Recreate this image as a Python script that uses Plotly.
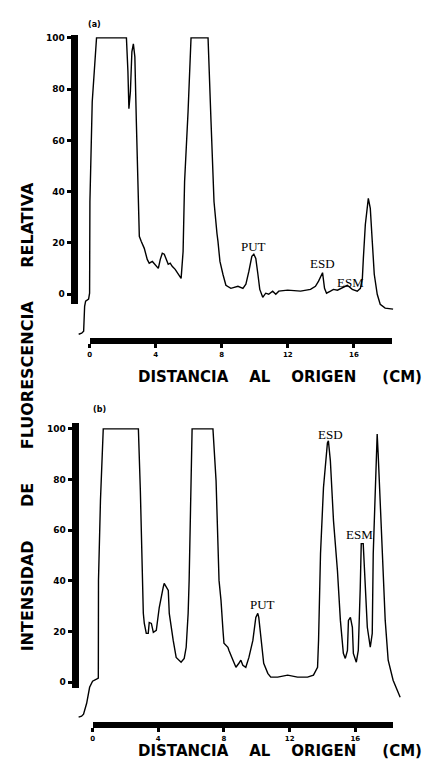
import plotly.graph_objects as go

W, H = 426, 771

# ---------------- data (cm, % relative fluorescence) ----------------
xa = [-0.66, -0.48, -0.36, -0.33, -0.30, -0.24, -0.06, 0.0, 0.02, 0.16, 0.42, 1.33, 2.23,
      2.32, 2.38, 2.47, 2.56, 2.65, 2.74, 2.83, 2.95, 3.0, 3.01, 3.13, 3.31, 3.49, 3.61,
      3.80, 3.98, 4.16, 4.28, 4.40, 4.52, 4.64, 4.76, 4.88, 5.0, 5.18, 5.36, 5.54, 5.66,
      5.75, 5.96, 6.14, 7.17, 7.23, 7.35, 7.53, 7.65, 7.71, 7.77, 7.89, 8.07, 8.25, 8.55,
      8.98, 9.28, 9.46, 9.64, 9.82, 9.94, 10.06, 10.18, 10.30, 10.48, 10.66, 10.84, 11.08,
      11.27, 11.45, 11.99, 12.77, 13.37, 13.67, 13.86, 14.10, 14.22, 14.34, 14.58, 14.76,
      15.0, 15.30, 15.60, 15.90, 16.20, 16.39, 16.51, 16.57, 16.69, 16.87, 16.99, 17.11,
      17.23, 17.41, 17.59, 17.89, 18.37]
ya = [-15.6, -15.2, -14.4, -9.7, -4.7, -2.7, -1.9, 0.4, 36.2, 75.1, 100, 100, 100,
      87, 72.4, 79, 94.6, 97.7, 92.6, 67.3, 36.2, 25.7, 22.6, 20.6, 17.9, 13.6, 12.1,
      12.8, 11.3, 10.1, 13.6, 16.0, 15.6, 13.6, 11.7, 12.1, 10.9, 9.7, 7.8, 6.2, 16.7,
      44, 71.2, 100, 100, 87, 67.3, 36.2, 25.3, 23.7, 20.6, 12.8, 7.8, 3.5, 2.3,
      3.1, 2.3, 3.9, 8.9, 14.8, 15.6, 14.0, 8.2, 1.9, -1.2, 0.4, 0.0, 1.2,
      0.0, 1.2, 1.6, 1.2, 1.9, 3.1, 5.1, 8.4, 2.3, 0.4, 1.2, 1.9,
      1.6, 2.7, 3.5, 1.9, 1.2, 2.3, 6.2, 14.0, 27.2, 37.4, 33.5, 20.6,
      7.8, 0.0, -3.9, -5.4, -5.8]

xb = [-0.85, -0.67, -0.55, -0.36, -0.18, 0.0, 0.24, 0.35, 0.36, 0.48, 0.65, 1.76, 2.79,
      2.91, 3.03, 3.09, 3.15, 3.27, 3.39, 3.45, 3.58, 3.70, 3.88, 4.06, 4.30, 4.36, 4.61,
      4.67, 4.91, 5.09, 5.39, 5.58, 5.70, 5.82, 5.88, 6.06, 7.33, 7.52, 7.70, 7.82, 7.94,
      8.0, 8.24, 8.30, 8.55, 8.73, 8.91, 9.03, 9.15, 9.33, 9.52, 9.76, 9.94, 10.06, 10.12,
      10.24, 10.42, 10.67, 10.85, 11.27, 11.88, 12.48, 13.09, 13.45, 13.70, 13.76, 13.88,
      14.06, 14.30, 14.36, 14.48, 14.67, 14.91, 15.09, 15.27, 15.39, 15.52, 15.58, 15.70,
      15.82, 15.88, 16.06, 16.18, 16.30, 16.36, 16.48, 16.61, 16.73, 16.91, 17.03, 17.09,
      17.21, 17.33, 17.39, 17.64, 17.82, 18.0, 18.30, 18.73]
yb = [-13.8, -13.4, -12.6, -8.3, -2.0, 0.4, 1.2, 1.6, 40.2, 71.7, 100, 100, 100,
      75.6, 40.2, 27.2, 23.2, 19.3, 19.3, 23.6, 23.2, 19.7, 20.5, 29.5, 37.4, 39.0, 36.2,
      27.2, 16.5, 9.8, 7.9, 9.4, 13.8, 27.2, 40.2, 100, 100, 79.5, 40.2, 32.3, 20.5,
      15.4, 13.8, 12.6, 8.7, 5.9, 7.5, 8.7, 6.7, 5.9, 9.8, 16.5, 25.6, 27.2, 25.6,
      17.7, 7.5, 3.5, 2.0, 2.0, 2.8, 2.0, 2.0, 2.8, 5.9, 16.5, 50.8,
      76.8, 94.5, 95.3, 87.4, 63.8, 44.1, 24.4, 11.4, 9.4, 12.6, 24.4, 25.6,
      21.7, 11.4, 7.9, 12.6, 37.4, 54.7, 54.7, 37.4, 21.7, 13.8, 19.3, 50.8,
      76.8, 98.0, 90.2, 50.8, 24.4, 8.7, 0.8, -5.9]

x_ticks = [0, 4, 8, 12, 16]
x_ticklabels = ["0", "4", "8", "12", "16"]
y_ticks = [0, 20, 40, 60, 80, 100]
y_ticklabels = ["0", "20", "40", "60", "80", "100"]

peak_labels = ["PUT", "ESD", "ESM"]
peaks_a_x = [9.94, 14.1, 15.78]
peaks_a_y = [18.7, 12.1, 4.7]
peaks_b_x = [10.36, 14.48, 16.24]
peaks_b_y = [30.7, 97.6, 58.3]

xgap = "\u00a0" * 4
x_title = "DISTANCIA" + xgap + "AL" + xgap + "ORIGEN" + xgap + "\u00a0(CM)"
gap = "\u00a0" * 6
y_title = "INTENSIDAD" + gap + "DE" + gap + "FLUORESCENCIA" + gap + "RELATIVA"

# ---------------- pixel geometry ----------------
def fx(px):
    return px / W

def fy(py):
    return 1 - py / H

panels = [
    # x0: px of x=0, kx px/cm ; y0: py of y=0, ky px/%
    dict(x0=88, kx=16.6, y0=293, ky=2.57, dom_x=(58, 416), dom_y=(18, 350),
         ybar=72, ybar_top=33, ybar_bot=303, xbar=340, xbar_end=392,
         xs=xa, ys=ya, px=peaks_a_x, py=peaks_a_y, tag="(a)", tagpos=(84, 16),
         xtitle_y=376),
    dict(x0=91, kx=16.5, y0=682, ky=2.54, dom_x=(58, 416), dom_y=(412, 740),
         ybar=73, ybar_top=422, ybar_bot=688, xbar=725, xbar_end=393,
         xs=xb, ys=yb, px=peaks_b_x, py=peaks_b_y, tag="(b)", tagpos=(89, 409),
         xtitle_y=762),
]

fig = go.Figure()
layout = dict(width=W, height=H, margin=dict(l=0, r=0, t=0, b=0),
              paper_bgcolor="white", plot_bgcolor="rgba(0,0,0,0)", showlegend=False)
annotations = []

for i, p in enumerate(panels):
    dn = i + 1          # data axes 1,2
    tn = i + 3          # tick axes 3,4
    xd = "x" if dn == 1 else f"x{dn}"
    yd = "y" if dn == 1 else f"y{dn}"
    xk = "xaxis" if dn == 1 else f"xaxis{dn}"
    yk = "yaxis" if dn == 1 else f"yaxis{dn}"

    L, R = p["dom_x"]
    T, B = p["dom_y"]
    layout[xk] = dict(domain=[fx(L), fx(R)], anchor=yd, visible=False,
                      range=[(L - p["x0"]) / p["kx"], (R - p["x0"]) / p["kx"]])
    layout[yk] = dict(domain=[fy(B), fy(T)], anchor=xd, visible=False,
                      range=[(p["y0"] - B) / p["ky"], (p["y0"] - T) / p["ky"]])

    fig.add_trace(go.Scatter(x=p["xs"], y=p["ys"], mode="lines", xaxis=xd, yaxis=yd,
                             line=dict(color="black", width=1.4), hoverinfo="skip"))

    # tick (decorative) axes
    layout[f"xaxis{tn}"] = dict(
        domain=[fx(p["x0"]), fx(p["xbar_end"])], anchor="free", position=fy(p["xbar"]),
        range=[0, (p["xbar_end"] - p["x0"]) / p["kx"]], showline=True, linewidth=6,
        linecolor="black", ticks="outside", ticklen=4, tickwidth=3, tickcolor="black",
        tickvals=x_ticks, ticktext=x_ticklabels, showgrid=False, zeroline=False,
        tickfont=dict(family="DejaVu Sans", size=7, color="black", weight="bold"))
    layout[f"yaxis{tn}"] = dict(
        domain=[fy(p["ybar_bot"]), fy(p["ybar_top"])], anchor="free", position=fx(p["ybar"]),
        range=[(p["y0"] - p["ybar_bot"]) / p["ky"], (p["y0"] - p["ybar_top"]) / p["ky"]],
        showline=True, linewidth=7, linecolor="black", ticks="outside", ticklen=4,
        tickwidth=3, tickcolor="black", tickvals=y_ticks, ticktext=y_ticklabels,
        showgrid=False, zeroline=False,
        tickfont=dict(family="DejaVu Sans", size=9, color="black", weight="bold"))
    fig.add_trace(go.Scatter(x=[], y=[], xaxis=f"x{tn}", yaxis=f"y{tn}", hoverinfo="skip"))

    for lab, ax_, ay_ in zip(peak_labels, p["px"], p["py"]):
        annotations.append(dict(x=ax_, y=ay_, xref=xd, yref=yd, text=lab, showarrow=False,
                                font=dict(family="Liberation Serif", size=13, color="black")))

    annotations.append(dict(x=fx(p["tagpos"][0]), y=fy(p["tagpos"][1]), xref="paper", yref="paper",
                            text=p["tag"], showarrow=False,
                            font=dict(family="DejaVu Sans", size=8, color="black", weight="bold")))
    annotations.append(dict(x=fx(279), y=fy(p["xtitle_y"]), xref="paper", yref="paper",
                            text=x_title, showarrow=False,
                            font=dict(family="DejaVu Sans", size=15, color="black", weight="bold")))

annotations.append(dict(x=fx(14), y=fy(416), xref="paper", yref="paper", text=y_title,
                        textangle=-90, showarrow=False,
                        font=dict(family="DejaVu Sans", size=16, color="black", weight="bold")))

layout["annotations"] = annotations
fig.update_layout(**layout)
fig.write_html("out.html")
